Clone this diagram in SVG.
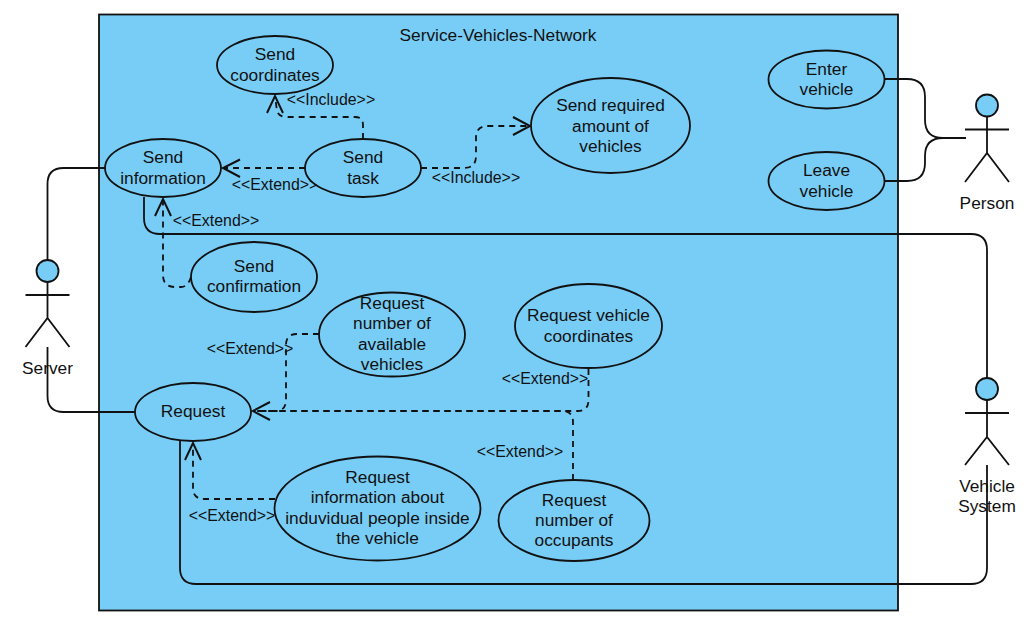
<svg xmlns="http://www.w3.org/2000/svg" width="1032" height="635" viewBox="0 0 1032 635">
<style>
text{font-family:"Liberation Sans",Arial,sans-serif;font-size:17.3px;fill:#111;text-anchor:middle}
.lab{font-size:15.900px}
.uc ellipse,.actor circle{fill:#78cdf7;stroke:#111;stroke-width:1.800}
.actor path{fill:none;stroke:#111;stroke-width:1.800}
.s{fill:none;stroke:#111;stroke-width:1.800}
.d{fill:none;stroke:#111;stroke-width:1.800;stroke-dasharray:6 5}
.a{fill:none;stroke:#111;stroke-width:2}
</style>
<rect width="1032" height="635" fill="#fff"/>
<g id="system"><rect x="99" y="14.500" width="799" height="596" fill="#78cdf7" stroke="#111" stroke-width="1.800"/><text x="498" y="41">Service-Vehicles-Network</text></g>
<g id="connectors">
<path class="s" d="M47.500 260V184q0-16 16-16H105"/>
<path class="s" d="M47.500 347V396q0 16 16 16H135"/>
<path class="s" d="M987 378V250q0-16-16-16H160q-16 0-16-16V197"/>
<path class="s" d="M987 465V568q0 16-16 16H196q-16 0-16-16V441"/>
<path class="s" d="M885 79H907q18 0 18 18V120q0 18 18 18H966"/>
<path class="s" d="M885 181H907q18 0 18-18V156q0-18 18-18H966"/>
<path class="d" d="M305 168H223"/><path class="a" d="M240 159.500L223 168L240 177"/>
<path class="d" d="M363 139V125q0-8-8-8H287q-8 0-10-6L275 96"/><path class="a" d="M267 113L275 96L283 113"/>
<path class="d" d="M421 168H464q12 0 12-12V138q0-12 12-12H530"/><path class="a" d="M513 117L530 126L513 135"/>
<path class="d" d="M191 277q-3 10-10 10H175q-12 0-12-12V199"/><path class="a" d="M155 216L163 199L171 216"/>
<path class="d" d="M319 334H297q-11 0-11 11V400q0 11-11 11H253"/>
<path class="d" d="M588.500 369V400q0 11-11 11H253"/>
<path class="d" d="M573 480V422q0-11-11-11H253"/><path class="a" d="M270 402L253 411L270 420"/>
<path class="d" d="M275 499H204q-11 0-11-11V443"/><path class="a" d="M185 460L193 443L201 460"/>
<text class="lab" x="331" y="105">&lt;&lt;Include&gt;&gt;</text>
<text class="lab" x="476" y="183">&lt;&lt;Include&gt;&gt;</text>
<text class="lab" x="275" y="190">&lt;&lt;Extend&gt;&gt;</text>
<text class="lab" x="216" y="226">&lt;&lt;Extend&gt;&gt;</text>
<text class="lab" x="250" y="354">&lt;&lt;Extend&gt;&gt;</text>
<text class="lab" x="545" y="384">&lt;&lt;Extend&gt;&gt;</text>
<text class="lab" x="520" y="457">&lt;&lt;Extend&gt;&gt;</text>
<text class="lab" x="232" y="521">&lt;&lt;Extend&gt;&gt;</text>
</g>
<g id="send-coordinates" class="uc"><ellipse cx="275" cy="65" rx="58" ry="29"/><text x="275" y="60">Send</text><text x="275" y="81">coordinates</text></g>
<g id="send-information" class="uc"><ellipse cx="163" cy="168" rx="58" ry="29"/><text x="163" y="163">Send</text><text x="163" y="184">information</text></g>
<g id="send-task" class="uc"><ellipse cx="363" cy="168" rx="58" ry="29"/><text x="363" y="163">Send</text><text x="363" y="184">task</text></g>
<g id="send-required" class="uc"><ellipse cx="610.500" cy="125.500" rx="79.500" ry="47.500"/><text x="610.500" y="111">Send required</text><text x="610.500" y="132">amount of</text><text x="610.500" y="152">vehicles</text></g>
<g id="send-confirmation" class="uc"><ellipse cx="254" cy="277" rx="63" ry="35"/><text x="254" y="272">Send</text><text x="254" y="292">confirmation</text></g>
<g id="request-available" class="uc"><ellipse cx="392" cy="334.500" rx="73" ry="42"/><text x="392" y="309">Request</text><text x="392" y="329">number of</text><text x="392" y="350">available</text><text x="392" y="370">vehicles</text></g>
<g id="request-coordinates" class="uc"><ellipse cx="588.500" cy="326" rx="73.500" ry="42"/><text x="588.500" y="321">Request vehicle</text><text x="588.500" y="342">coordinates</text></g>
<g id="request" class="uc"><ellipse cx="193" cy="412" rx="58" ry="29"/><text x="193" y="417">Request</text></g>
<g id="request-people" class="uc"><ellipse cx="377.500" cy="508.500" rx="103" ry="52"/><text x="377.500" y="483">Request</text><text x="377.500" y="503">information about</text><text x="377.500" y="524">induvidual people inside</text><text x="377.500" y="544">the vehicle</text></g>
<g id="request-occupants" class="uc"><ellipse cx="574" cy="520.500" rx="75.500" ry="40.500"/><text x="574" y="506">Request</text><text x="574" y="526">number of</text><text x="574" y="546">occupants</text></g>
<g id="enter-vehicle" class="uc"><ellipse cx="826.500" cy="79.500" rx="58" ry="29"/><text x="826.500" y="75">Enter</text><text x="826.500" y="95">vehicle</text></g>
<g id="leave-vehicle" class="uc"><ellipse cx="826.500" cy="181" rx="58" ry="29"/><text x="826.500" y="176">Leave</text><text x="826.500" y="197">vehicle</text></g>
<g id="actor-person" class="actor"><circle cx="987" cy="105.500" r="11"/><path d="M987 116.500V153M965 129.500H1009M965 182L987 153L1009 182"/><text x="987" y="209">Person</text></g>
<g id="actor-server" class="actor"><circle cx="47.500" cy="271" r="11"/><path d="M47.500 282V318M25.500 295H69.500M25.500 347L47.500 318L69.500 347"/><text x="47.500" y="374">Server</text></g>
<g id="actor-vehicle-system" class="actor"><circle cx="987" cy="389" r="11"/><path d="M987 400V437M965 413H1009M965 465L987 437L1009 465"/><text x="987" y="492">Vehicle</text><text x="987" y="512">System</text></g>
</svg>
